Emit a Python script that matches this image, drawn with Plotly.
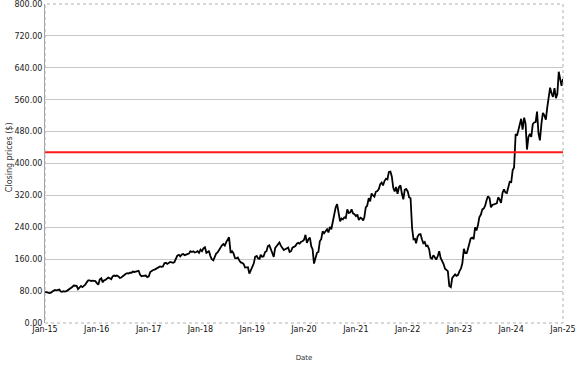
import pandas as pd
import plotly.graph_objects as go

# Closing prices, three readings per month (around the 2nd, 12th and 22nd)
p2015 = [78, 76, 76, 75, 76, 79, 80, 83, 82, 83, 84, 79, 78, 80, 79, 80, 82, 86,
         88, 90, 94, 94, 93, 85, 89, 93, 90, 92, 96, 102, 107, 107, 105, 106, 106, 105]
p2016 = [100, 96, 109, 112, 102, 107, 108, 111, 114, 112, 110, 117, 119, 118, 119, 117, 113, 114,
         117, 122, 123, 125, 124, 126, 126, 129, 128, 129, 130, 131, 121, 117, 118, 118, 119, 115]
p2017 = [117, 128, 131, 133, 134, 136, 138, 140, 142, 141, 142, 150, 151, 148, 151, 153, 152, 151,
         153, 162, 169, 171, 167, 172, 173, 170, 171, 172, 174, 180, 178, 180, 177, 178, 180, 176]
p2018 = [184, 180, 187, 190, 176, 178, 181, 168, 160, 157, 165, 174, 177, 184, 191, 195, 198, 194,
         203, 210, 215, 176, 180, 175, 163, 162, 164, 157, 152, 151, 148, 139, 140, 140, 124, 131]
p2019 = [138, 149, 166, 168, 162, 161, 171, 166, 167, 178, 180, 193, 195, 187, 177, 166, 188, 193,
         196, 202, 194, 188, 183, 185, 187, 189, 178, 180, 189, 191, 193, 199, 201, 199, 204, 205]
p2020 = [209, 221, 201, 210, 214, 192, 185, 149, 165, 176, 178, 205, 210, 230, 225, 232, 235, 227,
         241, 235, 253, 268, 290, 298, 280, 255, 262, 260, 265, 263, 285, 276, 277, 285, 275, 273]
p2021 = [268, 272, 258, 264, 262, 257, 265, 290, 294, 313, 305, 325, 320, 317, 329, 331, 336, 348,
         352, 345, 356, 362, 360, 379, 380, 367, 339, 330, 341, 324, 341, 345, 324, 310, 334, 336]
p2022 = [330, 315, 313, 237, 210, 211, 200, 216, 222, 223, 210, 200, 203, 193, 194, 185, 163, 161,
         170, 163, 159, 168, 180, 163, 156, 148, 136, 133, 130, 93, 90, 113, 118, 122, 118, 120]
p2023 = [130, 136, 149, 186, 175, 175, 185, 196, 212, 214, 210, 240, 232, 245, 265, 272, 285, 287,
         294, 308, 318, 313, 290, 296, 298, 300, 300, 315, 310, 301, 327, 335, 327, 326, 345, 354]
p2024 = [353, 383, 390, 474, 470, 490, 498, 512, 485, 515, 500, 435, 466, 474, 467, 499, 503, 504,
         530, 476, 458, 500, 527, 521, 510, 541, 572, 590, 576, 567, 589, 564, 574, 630, 612, 595]
p2025 = [612]

threshold = 428

prices = p2015 + p2016 + p2017 + p2018 + p2019 + p2020 + p2021 + p2022 + p2023 + p2024 + p2025

dates = []
for y in range(2015, 2025):
    for m in range(1, 13):
        for d in (2, 12, 22):
            dates.append(pd.Timestamp(year=y, month=m, day=d))
dates.append(pd.Timestamp(2025, 1, 1))

tick_vals = [pd.Timestamp(y, 1, 1) for y in range(2015, 2026)]
tick_text = [f"Jan-{str(y)[2:]}" for y in range(2015, 2026)]

fig = go.Figure()
fig.add_trace(go.Scatter(x=dates, y=prices, mode="lines",
                         line=dict(color="black", width=1.8), hoverinfo="skip",
                         showlegend=False))
fig.add_hline(y=threshold, line=dict(color="#ff1a1a", width=2))

fig.add_shape(type="rect", xref="paper", yref="paper", x0=0, x1=1, y0=0, y1=1,
              line=dict(color="#b0b0b0", width=1, dash="dot"), layer="above")

fig.add_annotation(text="Closing prices ($)", textangle=-90, xref="paper", yref="paper",
                   x=-0.0694, y=0.52, xanchor="center", yanchor="middle", showarrow=False,
                   font=dict(size=8, color="#333"))

fig.update_layout(
    width=577, height=367,
    margin=dict(l=45, r=14, t=4, b=44, autoexpand=False),
    paper_bgcolor="white", plot_bgcolor="white",
    font=dict(family="DejaVu Sans", size=8, color="#222"),
    xaxis=dict(range=[pd.Timestamp(2015, 1, 1), pd.Timestamp(2025, 1, 1)],
               tickvals=tick_vals, ticktext=tick_text, showgrid=False,
               zeroline=False, showline=False, ticks="", automargin=False,
               ticklabeloverflow="allow",
               tickfont=dict(size=8, color="#111"),
               title=dict(text="Date", font=dict(size=7, color="#333"), standoff=22)),
    yaxis=dict(range=[0, 800], dtick=80, tickformat=".2f", showgrid=True,
               gridcolor="#c8c8c8", gridwidth=1, zeroline=False, automargin=False,
               showline=True, linecolor="#a0a0a0", linewidth=1, ticks="",
               ticklabeloverflow="allow",
               tickfont=dict(size=8, color="#222")),
)

fig.write_html("out.html", config={"displayModeBar": False},
               post_script="document.body.style.margin='0';")
